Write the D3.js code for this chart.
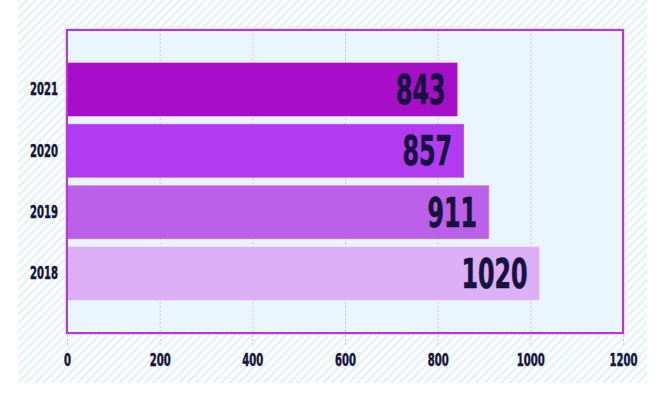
<!DOCTYPE html>
<html><head><meta charset="utf-8">
<script src="https://cdn.jsdelivr.net/npm/d3@7/dist/d3.min.js"></script>
<style>
html,body{margin:0;padding:0;background:#fff;}
svg{display:block;}
text{font-family:"DejaVu Sans Condensed","DejaVu Sans",sans-serif;font-weight:bold;fill:#15133f;}
</style></head>
<body>
<script>
const years = ["2021","2020","2019","2018"];
const values = [843, 857, 911, 1020];
const barColors = ["#a60fc7","#b23bf1","#bb60e9","#dcaff6"];
const xTicks = [0,200,400,600,800,1000,1200];

const W = 668, H = 395;
const m = {left:67, right:45, top:30, bottom:62};
const svg = d3.select("body").append("svg").attr("width",W).attr("height",H);

const defs = svg.append("defs");
const pat = defs.append("pattern").attr("id","hatch").attr("patternUnits","userSpaceOnUse")
  .attr("width",6).attr("height",6).attr("patternTransform","rotate(45)");
pat.append("rect").attr("width",6).attr("height",6).attr("fill","#ffffff");
pat.append("rect").attr("width",2.6).attr("height",6).attr("fill","#e6f2f6");

svg.append("rect").attr("x",18).attr("y",0).attr("width",629).attr("height",383).attr("fill","url(#hatch)");

const x = d3.scaleLinear().domain([0,1200]).range([m.left, W-m.right]);
const y = d3.scaleBand().domain(years).range([m.top, H-m.bottom]).paddingInner(0.12).paddingOuter(0.53);

const x0 = x.range()[0], x1 = x.range()[1], y0 = m.top, y1 = H-m.bottom;
const SX = 0.62;

svg.append("rect").attr("x",x0).attr("y",y0).attr("width",x1-x0).attr("height",y1-y0).attr("fill","#eaf6fd");

// gridlines
svg.append("g").selectAll("line").data(xTicks.filter(t=>t>0&&t<1200)).join("line")
  .attr("x1",d=>x(d)+0.5).attr("x2",d=>x(d)+0.5).attr("y1",y0).attr("y2",y1)
  .attr("stroke","#e7b5ec").attr("stroke-width",1).attr("stroke-dasharray","2,2");

// bars
svg.append("g").selectAll("rect").data(years).join("rect")
  .attr("x",x(0)).attr("y",d=>y(d)).attr("width",(d,i)=>x(values[i])-x(0)).attr("height",y.bandwidth())
  .attr("fill",(d,i)=>barColors[i]).attr("stroke","rgba(255,255,255,0.35)").attr("stroke-width",1);

// border
svg.append("rect").attr("x",x0-1.5).attr("y",y0-1.5).attr("width",x1-x0+3).attr("height",y1-y0+3)
  .attr("fill","none").attr("stroke","#ecd2f6").attr("stroke-width",1);
svg.append("rect").attr("x",x0).attr("y",y0).attr("width",x1-x0).attr("height",y1-y0)
  .attr("fill","none").attr("stroke","#b538d6").attr("stroke-width",2);

// value labels
svg.append("g").selectAll("text").data(years).join("text")
  .attr("transform",(d,i)=>`translate(${x(values[i])-12},${y(d)+y.bandwidth()/2+14.5}) scale(0.66,1)`)
  .attr("text-anchor","end").attr("font-size",40)
  .attr("stroke","#15133f").attr("stroke-width",0.6).text((d,i)=>values[i]);

// x axis
const xa = svg.append("g").attr("transform",`translate(0,${y1})`)
  .call(d3.axisBottom(x).tickValues(xTicks).tickSize(13).tickPadding(7).tickFormat(d3.format("d")));
xa.select(".domain").remove();
xa.selectAll(".tick line").attr("stroke","#e7b5ec").attr("stroke-dasharray","2,2").attr("y1",2);
xa.selectAll(".tick text").attr("font-size",18).attr("fill","#15133f")
  .attr("stroke","#15133f").attr("stroke-width",0.5)
  .attr("font-family","DejaVu Sans Condensed, DejaVu Sans, sans-serif").attr("font-weight","bold")
  .attr("transform",`scale(${SX},1)`);

// y axis
const ya = svg.append("g").attr("transform",`translate(${x0},0)`)
  .call(d3.axisLeft(y).tickSize(0).tickPadding(9));
ya.select(".domain").remove();
ya.selectAll(".tick text").attr("font-size",18).attr("fill","#15133f")
  .attr("stroke","#15133f").attr("stroke-width",0.5)
  .attr("font-family","DejaVu Sans Condensed, DejaVu Sans, sans-serif").attr("font-weight","bold")
  .attr("x",-9/SX).attr("transform",`scale(${SX},1)`);
</script>
</body></html>
